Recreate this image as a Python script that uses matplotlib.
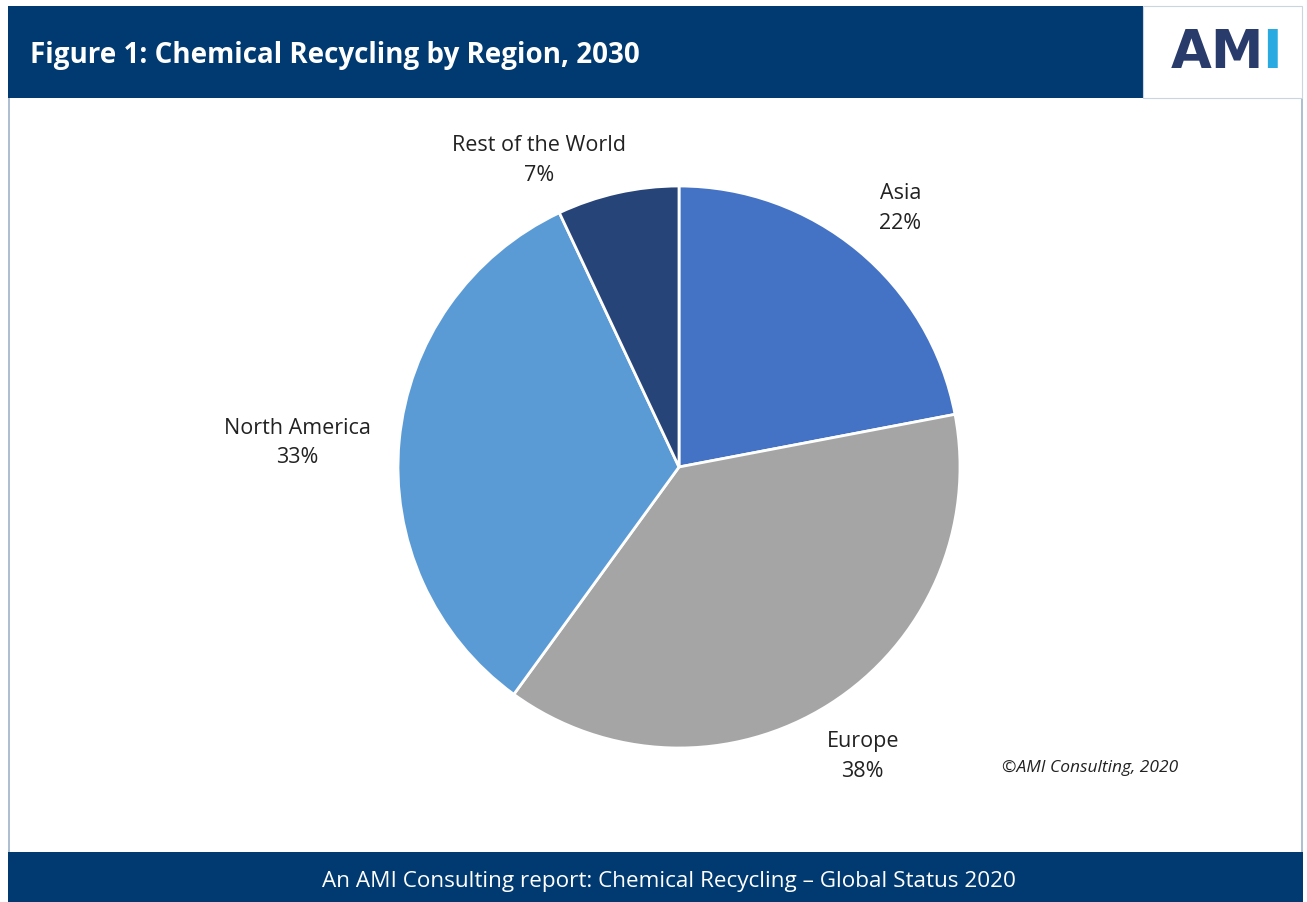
import matplotlib
matplotlib.use("Agg")
import matplotlib.pyplot as plt
import matplotlib.patches as patches
import numpy as np

# chart data
regions = ["Asia", "Europe", "North America", "Rest of the World"]
shares = [22, 38, 33, 7]
colors = ["#4472C4", "#A5A5A5", "#5B9BD5", "#264478"]

title = "Figure 1: Chemical Recycling by Region, 2030"
footer = "An AMI Consulting report: Chemical Recycling \u2013 Global Status 2020"
credit = "\u00a9AMI Consulting, 2020"

NAVY = "#003A70"
W, H = 1307, 902

plt.rcParams['font.family'] = ['Open Sans', 'DejaVu Sans']

fig = plt.figure(figsize=(W / 100, H / 100), dpi=100)
fig.patch.set_facecolor("white")


def px(x, y):
    # pixel coords (top-left origin) -> figure fraction
    return x / W, 1 - y / H


def box(x0, y0, x1, y1, **kw):
    fig.patches.append(patches.Rectangle((x0 / W, 1 - y1 / H), (x1 - x0) / W, (y1 - y0) / H,
                                         transform=fig.transFigure, zorder=-1, **kw))


# panel frame, header and footer bands
box(9, 8, 1302, 860, fc="white", ec="#9DB3C8", lw=1.2)
box(8, 6, 1143, 98, fc=NAVY, ec="none")
box(1143, 6, 1302, 98, fc="white", ec="#C9D6E2", lw=0.8)
box(8, 852, 1303, 902, fc=NAVY, ec="none")

fig.text(*px(30, 55), title, color="white", fontsize=20, fontweight="bold",
         ha="left", va="center")
fig.text(*px(669, 882), footer, color="white", fontsize=16.2, ha="center", va="center")
fig.text(*px(1090, 768), credit, fontsize=12.5, style="italic", ha="center", va="center",
         color="#222222")

# logo
fig.text(*px(1264, 53), "AM", color="#283B6B", fontsize=38, fontweight="bold",
         ha="right", va="center", family="DejaVu Sans")
fig.text(*px(1262, 53), "I", color="#29ABE2", fontsize=38, fontweight="bold",
         ha="left", va="center", family="DejaVu Sans")

# pie axes: center (679, 467), radius 281 px
R = 281
cx, cy = 679, 467
half = 1.5 * R
ax = fig.add_axes([(cx - half) / W, (H - cy - half) / H, 2 * half / W, 2 * half / H])

wedges, _ = ax.pie(shares, colors=colors, startangle=90, counterclock=False,
                   wedgeprops=dict(edgecolor="white", linewidth=2))
ax.set_xlim(-1.5, 1.5)
ax.set_ylim(-1.5, 1.5)
ax.set_aspect("equal")
ax.axis("off")

label_r = [1.21, 1.22, 1.36, 1.2]
label_shift = [-1, 0, 1.8, 12]
for w, name, val, r, sh in zip(wedges, regions, shares, label_r, label_shift):
    ang = np.deg2rad((w.theta1 + w.theta2) / 2 + sh)
    ax.text(r * np.cos(ang), r * np.sin(ang), f"{name}\n{val}%", ha="center", va="center",
            fontsize=15.5, color="#222222", linespacing=1.55)

fig.savefig("out.png", dpi=100)
